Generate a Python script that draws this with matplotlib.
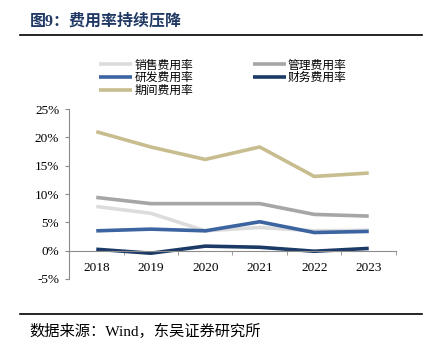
import matplotlib
matplotlib.use("Agg")
import matplotlib.pyplot as plt
from matplotlib.lines import Line2D

years = ["2018", "2019", "2020", "2021", "2022", "2023"]
sales = [7.8, 6.6, 3.5, 4.1, 3.5, 3.6]
admin = [9.4, 8.3, 8.3, 8.3, 6.4, 6.1]
rnd = [3.5, 3.8, 3.5, 5.1, 3.2, 3.4]
finance = [0.25, -0.45, 0.8, 0.6, -0.1, 0.4]
period = [21.0, 18.3, 16.1, 18.3, 13.1, 13.7]

SERIES = [
    ("销售费用率", sales, "#dcdcdc"),
    ("管理费用率", admin, "#a6a6a6"),
    ("研发费用率", rnd, "#3b64a0"),
    ("财务费用率", finance, "#1b3a66"),
    ("期间费用率", period, "#c8bd8e"),
]

plt.rcParams["font.family"] = ["Liberation Serif", "Noto Sans CJK SC"]
AXC = "#8c8c8c"

fig = plt.figure(figsize=(4.33, 3.56), dpi=100)
ax = fig.add_axes([0.1594, 0.2163, 0.7551, 0.4775])

x = list(range(len(years)))
lines = {}
for name, vals, color in SERIES:
    lines[name], = ax.plot(x, vals, color=color, lw=2.6, solid_capstyle="butt")

ax.set_xlim(-0.5, len(years) - 0.5)
ax.set_ylim(-5, 25)
ax.set_yticks(range(-5, 30, 5))
ax.set_yticklabels([f"{v}%" for v in range(-5, 30, 5)])
ax.set_xticks(x)
ax.set_xticklabels(years)
ax.set_xticks([i - 0.5 for i in range(len(years) + 1)], minor=True)
ax.tick_params(labelsize=9.5)
ax.tick_params(axis="x", which="major", length=0, pad=8)
ax.tick_params(axis="x", which="minor", length=3, color=AXC, direction="out")
ax.tick_params(axis="y", length=3, color=AXC, direction="out", pad=4)

for s in ["top", "right"]:
    ax.spines[s].set_visible(False)
ax.spines["bottom"].set_position(("data", 0))
for s in ["bottom", "left"]:
    ax.spines[s].set_color(AXC)
    ax.spines[s].set_linewidth(0.8)

order = ["销售费用率", "研发费用率", "期间费用率", "管理费用率", "财务费用率"]
fig.legend([lines[n] for n in order], order, loc="upper center",
           bbox_to_anchor=(0.515, 1 - 49 / 356), ncol=2, frameon=False,
           prop={"size": 8.5}, handlelength=2.8,
           handletextpad=0.2, columnspacing=5.0, labelspacing=0.05)

fig.text(0.069, 1 - 22 / 356, "图9：费用率持续压降", fontsize=11.5,
         fontweight="bold", color="#1f3864", va="center")
fig.add_artist(Line2D([20 / 433, 422 / 433], [1 - 35 / 356] * 2, color="black", lw=1.2))
fig.add_artist(Line2D([20 / 433, 422 / 433], [1 - 314 / 356] * 2, color="black", lw=1.2))
fig.text(0.069, 1 - 331 / 356, "数据来源：Wind，东吴证券研究所",
         fontsize=11, color="black", va="center")

fig.savefig("out.png", dpi=100)
